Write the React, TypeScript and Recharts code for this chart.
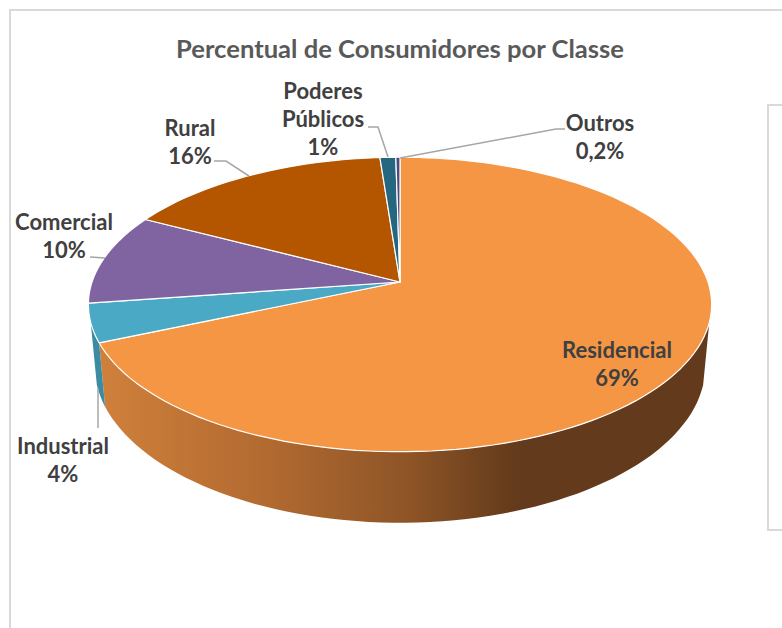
import { PieChart, Pie } from 'recharts';

const categories = ['Residencial', 'Industrial', 'Comercial', 'Rural', 'Poderes Públicos', 'Outros'];
const shares = [68.5, 4.2, 10, 16.1, 0.95, 0.25];
const shareLabels = ['69%', '4%', '10%', '16%', '1%', '0,2%'];
const topColors = ['#f59644', '#4aaac5', '#8064a2', '#b45500', '#24677e', '#4e4a7f'];
const wallColors = ['url(#wallOrange)', '#3b8ba3', '#8064a2', '#b45500', '#24677e', '#4e4a7f'];

const data = categories.map((name, i) => ({
  name,
  value: shares[i],
  shareLabel: shareLabels[i],
  fill: topColors[i],
  wall: wallColors[i],
}));

// perspective of the tilted disc
const TILT = 0.467;
const K = 0.1525;
// visible part of the side wall, degrees clockwise from the top
const WALL_FROM = 105.7;
const WALL_TO = 254.3;

function rim(cx: number, cy: number, r: number, deg: number) {
  const a = (deg * Math.PI) / 180;
  const d = 1 + K * Math.cos(a);
  return { x: cx + (r * Math.sin(a)) / d, y: cy - (r * TILT * Math.cos(a)) / d };
}

function lower(p: { x: number; y: number }, cx: number, cy: number) {
  return { x: cx + (p.x - cx) * 0.98, y: p.y + 60 + (11 * (p.y - cy)) / 170 };
}

function steps(from: number, to: number) {
  const out: number[] = [];
  const n = Math.max(2, Math.ceil((to - from) / 2));
  for (let i = 0; i <= n; i++) out.push(from + ((to - from) * i) / n);
  return out;
}

function Slice3D(props: any) {
  const { cx, cy, outerRadius, startAngle, endAngle, fill, wall } = props;
  const from = 90 - startAngle;
  const to = 90 - endAngle;
  const top = steps(from, to).map((d) => rim(cx, cy, outerRadius, d));
  const topPath =
    `M${cx},${cy} ` + top.map((p) => `L${p.x.toFixed(1)},${p.y.toFixed(1)}`).join(' ') + ' Z';

  const wf = Math.max(from, WALL_FROM);
  const wt = Math.min(to, WALL_TO);
  let wallPath = '';
  if (wt > wf) {
    const upper = steps(wf, wt).map((d) => rim(cx, cy, outerRadius, d));
    const bottom = upper.map((p) => lower(p, cx, cy)).reverse();
    wallPath =
      [...upper, ...bottom].map((p, i) => `${i ? 'L' : 'M'}${p.x.toFixed(1)},${p.y.toFixed(1)}`).join(' ') + ' Z';
  }
  return (
    <g>
      {wallPath && <path d={wallPath} fill={wall} />}
      <path d={topPath} fill={fill} stroke="#ffffff" strokeWidth={1.2} strokeLinejoin="round" />
    </g>
  );
}

// label layout: text centre, first baseline, leader polyline
const labelLayout: Record<string, { x: number; y: number; lines: string[]; leader: string }> = {
  Residencial: { x: 617, y: 358, lines: ['Residencial'], leader: '' },
  Industrial: { x: 63, y: 454, lines: ['Industrial'], leader: '98,388 98,428' },
  Comercial: { x: 64, y: 230, lines: ['Comercial'], leader: '90,257 105,258' },
  Rural: { x: 190, y: 136, lines: ['Rural'], leader: '214,161 226,161 249,176' },
  'Poderes Públicos': { x: 323, y: 99, lines: ['Poderes', 'Públicos'], leader: '368,127 378,127 388,157' },
  Outros: { x: 600, y: 131, lines: ['Outros'], leader: '565,129 556,129 400,158' },
};

function SliceLabel(props: any) {
  const { name, shareLabel } = props;
  const l = labelLayout[name];
  if (!l) return null;
  const rows = [...l.lines, shareLabel];
  return (
    <g>
      {l.leader && <polyline points={l.leader} fill="none" stroke="#a6a6a6" strokeWidth={1.5} />}
      <text x={l.x} y={l.y} textAnchor="middle" fontFamily="Lato" fontWeight={700} fontSize={22} fill="#404040">
        {rows.map((r, i) => (
          <tspan key={i} x={l.x} dy={i ? 28 : 0}>
            {r}
          </tspan>
        ))}
      </text>
    </g>
  );
}

export default function App() {
  return (
    <div style={{ position: 'absolute', left: 0, top: 0, width: 782, height: 628, overflow: 'hidden', background: '#fff' }}>
      <div style={{ position: 'absolute', left: 9, top: 9, width: 800, height: 700, border: '2px solid #d9d9d9' }} />
      <div style={{ position: 'absolute', left: 767, top: 104, width: 60, height: 423, border: '2px solid #d9d9d9' }} />
      <div style={{ position: 'absolute', left: 0, top: 0 }}>
        <PieChart width={782} height={628} margin={{ top: 0, right: 0, bottom: 0, left: 0 }}>
          <defs>
            <linearGradient id="wallOrange" gradientUnits="userSpaceOnUse" x1={100} y1={0} x2={712} y2={0}>
              <stop offset="0%" stopColor="#cf803b" />
              <stop offset="25%" stopColor="#b56c31" />
              <stop offset="50%" stopColor="#8f5527" />
              <stop offset="68%" stopColor="#633a1b" />
              <stop offset="100%" stopColor="#633a1b" />
            </linearGradient>
          </defs>
          <text x={400} y={58} textAnchor="middle" fontFamily="Lato" fontWeight={700} fontSize={25.6} fill="#595959">
            Percentual de Consumidores por Classe
          </text>
          <Pie
            data={data}
            dataKey="value"
            nameKey="name"
            cx={400}
            cy={282}
            innerRadius={0}
            outerRadius={308}
            startAngle={90}
            endAngle={-270}
            shape={Slice3D}
            label={SliceLabel}
            labelLine={false}
            isAnimationActive={false}
          />
        </PieChart>
      </div>
    </div>
  );
}
